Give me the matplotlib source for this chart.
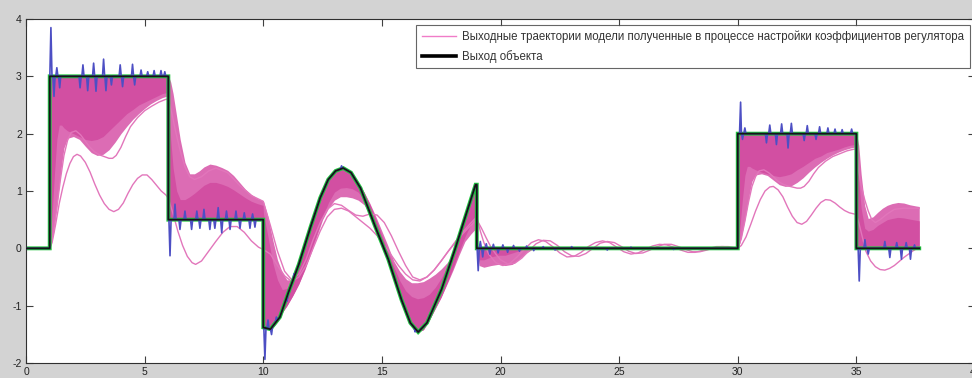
import numpy as np
import matplotlib
matplotlib.use("Agg")
import matplotlib.pyplot as plt
from matplotlib.lines import Line2D

# ---- setpoint / object output (breakpoints, sine section sampled) ----
ref_t = [0.0, 1.0, 1.0, 6.0, 6.0, 10.0, 10.0, 10.3, 10.7, 11.06, 11.5, 12.0, 12.4,
         12.74, 13.05, 13.37, 13.7, 14.1, 14.71, 15.27, 15.83, 16.2, 16.53, 16.9,
         17.52, 18.08, 18.64, 18.95, 19.0, 19.0, 30.0, 30.0, 35.0, 35.0, 37.65]
ref_y = [0.0, 0.0, 3.0, 3.0, 0.5, 0.5, -1.38, -1.41, -1.2, -0.77, -0.28, 0.38, 0.88,
         1.2, 1.35, 1.40, 1.32, 1.05, 0.39, -0.19, -0.9, -1.3, -1.46, -1.3,
         -0.71, -0.02, 0.71, 1.11, 1.11, 0.0, 0.0, 2.0, 2.0, 0.0, 0.0]

# ---- measured output: disturbance spikes on top of the object output ----
spike_t = [1.05, 1.18, 1.3, 1.42, 2.28, 2.4, 2.6, 2.85, 2.95, 3.27, 3.37, 3.6, 3.97,
           4.07, 4.49, 4.58, 4.85, 5.13, 5.4, 5.69, 5.85,
           6.07, 6.28, 6.49, 6.7, 6.98, 7.2, 7.33, 7.5, 7.75, 7.96, 8.1, 8.25, 8.45,
           8.6, 8.85, 9.02, 9.2, 9.44, 9.55, 9.65,
           10.07, 10.2, 10.35, 10.55, 11.0, 11.3, 13.3, 16.4,
           19.06, 19.15, 19.25, 19.4, 19.55, 19.7, 19.9, 20.1, 20.3, 20.55, 20.8,
           21.1, 21.4, 21.8, 22.3, 23.0, 24.5, 25.5, 27.3,
           30.12, 30.2, 30.3, 31.21, 31.35, 31.63, 31.85, 32.12, 32.26, 32.8, 32.93,
           33.3, 33.45, 33.8, 34.1, 34.4, 34.8,
           35.12, 35.36, 35.5, 36.2, 36.41, 36.7, 36.9, 37.1, 37.28, 37.45]
spike_dy = [0.85, -0.35, 0.15, -0.2, -0.2, 0.2, -0.25, 0.23, -0.26, 0.3, -0.25, -0.15, 0.2,
            -0.18, 0.21, -0.15, 0.11, 0.08, 0.1, 0.1, 0.08,
            -0.63, 0.27, -0.17, 0.15, -0.17, 0.15, -0.15, 0.18, -0.17, -0.15, 0.21, -0.23, 0.15,
            -0.17, 0.15, -0.15, 0.12, -0.15, 0.1, -0.13,
            -0.55, 0.15, -0.12, 0.08, -0.08, 0.06, 0.05, -0.06,
            -0.39, 0.12, -0.15, 0.08, -0.1, 0.07, -0.08, 0.06, -0.07, 0.05, -0.05,
            0.04, -0.04, 0.03, -0.03, 0.03, -0.03, 0.02, -0.02,
            0.55, -0.1, 0.1, -0.16, 0.15, -0.19, 0.17, -0.25, 0.18, -0.12, 0.14,
            -0.1, 0.12, 0.1, 0.08, 0.07, 0.08,
            -0.57, 0.15, -0.1, 0.12, -0.16, 0.1, -0.19, 0.1, -0.19, 0.06]

# ---- dense bundle of tuning trajectories: envelope and solid core ----
band_t = ([0.0, 0.99]
          + [1.01, 1.1, 1.2, 1.3, 1.4, 1.5, 1.6, 1.75, 2.0, 2.25, 2.5, 2.75, 3.0, 3.25,
             3.5, 3.75, 4.0, 4.25, 4.5, 4.75, 5.0, 5.25, 5.5, 5.75, 5.99]
          + [6.01, 6.1, 6.2, 6.35, 6.5, 6.7, 6.9, 7.1, 7.3, 7.5, 7.75, 8.0, 8.25, 8.5,
             8.75, 9.0, 9.25, 9.5, 9.75, 9.99]
          + [10.01, 10.2, 10.4, 10.6, 10.8, 11.0, 11.25, 11.5, 11.75, 12.0, 12.25, 12.5,
             12.75, 13.0, 13.25, 13.5, 13.75, 14.0, 14.25, 14.5, 14.75, 15.0, 15.25,
             15.5, 15.75, 16.0, 16.25, 16.5, 16.75, 17.0, 17.25, 17.5, 17.75, 18.0,
             18.25, 18.5, 18.75, 18.99]
          + [19.01, 19.1, 19.3, 19.6, 19.9, 20.2, 20.5, 20.8, 21.1, 21.4, 29.99]
          + [30.01, 30.1, 30.2, 30.3, 30.4, 30.5, 30.6, 30.75, 31.0, 31.25, 31.5, 31.75,
             32.0, 32.25, 32.5, 32.75, 33.0, 33.25, 33.5, 33.75, 34.0, 34.25, 34.5,
             34.75, 34.99]
          + [35.01, 35.1, 35.2, 35.35, 35.5, 35.7, 35.9, 36.1, 36.3, 36.5, 36.75, 37.0,
             37.25, 37.5, 37.65])
band_hi = ([0.0, 0.0]
           + [3.0] * 25
           + [3.0, 2.9, 2.7, 2.3, 1.9, 1.5, 1.3, 1.3, 1.35, 1.42, 1.47, 1.45, 1.41,
              1.36, 1.27, 1.15, 1.03, 0.94, 0.87, 0.83]
           + [0.82, 0.55, 0.15, -0.2, -0.42, -0.55, -0.55, -0.28, 0.05, 0.38, 0.7, 0.97,
              1.2, 1.33, 1.39, 1.38, 1.3, 1.15, 0.98, 0.78, 0.55, 0.3, 0.05, -0.22, -0.4,
              -0.53, -0.6, -0.6, -0.58, -0.52, -0.45, -0.36, -0.25, -0.1, 0.22, 0.53,
              0.85, 1.11]
           + [0.0] * 11
           + [2.0] * 25
           + [2.0, 1.8, 1.3, 0.75, 0.52, 0.55, 0.63, 0.7, 0.75, 0.78, 0.8, 0.79, 0.76,
              0.74, 0.73])
band_lo = ([0.0, 0.0]
           + [0.0, 0.15, 0.45, 0.75, 1.1, 1.45, 1.75, 1.92, 1.95, 1.9, 1.78, 1.67, 1.62,
              1.64, 1.72, 1.85, 2.0, 2.13, 2.25, 2.35, 2.44, 2.52, 2.58, 2.63, 2.66]
           + [0.5] * 20
           + [-1.38, -1.40, -1.38, -1.28, -1.12, -1.0, -0.82, -0.62, -0.38, -0.1, 0.2,
              0.5, 0.7, 0.84, 0.9, 0.9, 0.88, 0.84, 0.76, 0.6, 0.35, 0.07, -0.18,
              -0.48, -0.82, -1.15, -1.35, -1.46, -1.42, -1.25, -1.05, -0.85, -0.62,
              -0.38, -0.12, 0.12, 0.25, 0.36]
           + [0.0, -0.3, -0.33, -0.3, -0.28, -0.3, -0.28, -0.18, -0.08, 0.0, 0.0]
           + [0.0, 0.1, 0.3, 0.5, 0.73, 0.97, 1.17, 1.28, 1.3, 1.27, 1.19, 1.11, 1.08,
              1.09, 1.15, 1.23, 1.33, 1.42, 1.5, 1.57, 1.63, 1.68, 1.72, 1.75, 1.77]
           + [0.0] * 15)
core_hi = ([0.0, 0.0]
           + [3.0] * 25
           + [2.6, 1.9, 1.4, 1.0, 0.85, 0.85, 0.9, 0.96, 1.03, 1.1, 1.15, 1.15, 1.12,
              1.08, 1.02, 0.95, 0.88, 0.82, 0.78, 0.75]
           + [0.6, 0.2, -0.25, -0.55, -0.72, -0.7, -0.55, -0.28, 0.05, 0.38, 0.7, 0.97,
              1.2, 1.33, 1.39, 1.38, 1.3, 1.15, 0.98, 0.76, 0.5, 0.22, -0.05, -0.32,
              -0.56, -0.74, -0.84, -0.88, -0.86, -0.8, -0.68, -0.52, -0.32, -0.1, 0.22,
              0.53, 0.85, 1.11]
           + [0.0] * 11
           + [2.0] * 25
           + [1.7, 1.2, 0.7, 0.35, 0.3, 0.33, 0.4, 0.45, 0.5, 0.52, 0.54, 0.53, 0.51,
              0.49, 0.48])
core_lo = ([0.0, 0.0]
           + [0.0, 0.6, 1.3, 1.9, 2.15, 2.15, 2.1, 2.05, 2.0, 1.95, 1.9, 1.88, 1.9, 1.95,
              2.05, 2.15, 2.25, 2.35, 2.42, 2.5, 2.55, 2.6, 2.65, 2.7, 2.72]
           + [0.5] * 20
           + [-1.38, -1.40, -1.38, -1.28, -1.12, -1.0, -0.82, -0.62, -0.36, -0.06, 0.25,
              0.55, 0.8, 0.98, 1.05, 1.06, 1.04, 0.98, 0.85, 0.6, 0.35, 0.07, -0.18,
              -0.48, -0.82, -1.15, -1.35, -1.46, -1.42, -1.25, -1.05, -0.85, -0.6,
              -0.34, -0.06, 0.2, 0.42, 0.6]
           + [0.0, -0.2, -0.2, -0.15, -0.12, -0.12, -0.08, -0.04, 0.0, 0.0, 0.0]
           + [0.0, 0.4, 0.87, 1.27, 1.43, 1.43, 1.4, 1.37, 1.33, 1.3, 1.27, 1.25, 1.27,
              1.3, 1.37, 1.43, 1.5, 1.57, 1.61, 1.67, 1.7, 1.73, 1.77, 1.8, 1.81]
           + [0.0] * 15)

# ---- slowest individual trajectories (outside the bundle) ----
slow1_t = [0.0, 1.0, 1.1, 1.25, 1.4, 1.55, 1.7, 1.85, 2.0, 2.15, 2.3, 2.5, 2.7, 2.9,
           3.1, 3.3, 3.5, 3.7, 3.9, 4.1, 4.3, 4.5, 4.7, 4.9, 5.1, 5.3, 5.5, 5.7, 5.9,
           6.0, 6.2, 6.4, 6.6, 6.8, 7.0, 7.15, 7.4, 7.7, 8.0, 8.3, 8.6, 8.9, 9.2, 9.5,
           9.8, 10.0, 10.3, 10.6, 10.9, 11.2, 11.5, 11.8, 12.1, 12.4, 12.7, 13.0, 13.3,
           13.6, 13.9, 14.2, 14.5, 14.8, 15.1, 15.4, 15.7, 16.0, 16.3, 16.6, 16.9,
           17.2, 17.5, 17.8, 18.1, 18.4, 18.7, 19.0, 19.2, 19.4, 19.6, 19.8, 20.0,
           20.3, 20.6, 20.9, 21.2, 21.5, 21.8, 22.1, 22.4, 22.7, 23.0, 23.3, 23.6,
           23.9, 24.2, 24.5, 24.8, 25.1, 25.4, 25.7, 26.0, 26.3, 26.6, 26.9, 27.2,
           27.5, 27.8, 28.1, 28.4, 28.7, 29.0, 29.3, 29.6, 30.0, 30.15, 30.35, 30.55,
           30.75, 30.95, 31.15, 31.35, 31.5, 31.7, 31.9, 32.1, 32.3, 32.5, 32.7, 32.9,
           33.1, 33.3, 33.5, 33.7, 33.9, 34.1, 34.3, 34.5, 34.7, 34.9, 35.0, 35.1,
           35.25, 35.4, 35.6, 35.8, 36.0, 36.2, 36.4, 36.6, 36.8, 37.0, 37.2, 37.4,
           37.65]
slow1_y = [0.0, 0.0, 0.1, 0.42, 0.78, 1.06, 1.3, 1.48, 1.6, 1.64, 1.61, 1.5, 1.33, 1.12,
           0.93, 0.78, 0.68, 0.64, 0.68, 0.79, 0.96, 1.11, 1.22, 1.28, 1.28, 1.2, 1.1,
           1.0, 0.93, 0.87, 0.6, 0.3, 0.05, -0.14, -0.25, -0.28, -0.22, -0.05, 0.12,
           0.28, 0.38, 0.38, 0.28, 0.13, 0.02, -0.02, -0.1, -0.3, -0.48, -0.58, -0.5,
           -0.3, 0.0, 0.3, 0.55, 0.68, 0.7, 0.65, 0.55, 0.45, 0.35, 0.22, 0.05, -0.12,
           -0.3, -0.45, -0.55, -0.57, -0.5, -0.38, -0.22, -0.05, 0.1, 0.25, 0.38, 0.5,
           0.35, 0.18, 0.02, -0.1, -0.2, -0.27, -0.26, -0.17, -0.04, 0.08, 0.14, 0.13,
           0.05, -0.06, -0.13, -0.14, -0.09, 0.0, 0.09, 0.12, 0.1, 0.03, -0.05, -0.09,
           -0.08, -0.03, 0.03, 0.07, 0.07, 0.03, -0.02, -0.06, -0.06, -0.03, 0.01,
           0.03, 0.03, 0.0, 0.05, 0.2, 0.42, 0.65, 0.85, 1.0, 1.07, 1.08, 1.02, 0.9,
           0.72, 0.56, 0.45, 0.42, 0.47, 0.58, 0.7, 0.8, 0.85, 0.84, 0.79, 0.72, 0.66,
           0.62, 0.6, 0.59, 0.45, 0.2, -0.05, -0.22, -0.32, -0.37, -0.38, -0.35, -0.3,
           -0.23, -0.16, -0.1, -0.04, 0.02]

slow2_t = [0.0, 1.0, 1.15, 1.3, 1.45, 1.6, 1.75, 1.9, 2.1, 2.3, 2.5, 2.7, 2.9, 3.1,
           3.3, 3.5, 3.65, 3.8, 4.0, 4.2, 4.4, 4.7, 5.0, 5.3, 5.6, 5.9, 6.0, 6.15, 6.3,
           6.5, 6.7, 6.9, 7.1, 7.4, 7.7, 8.0, 8.5, 9.0, 9.5, 10.0, 10.3, 10.6, 10.9,
           11.2, 11.5, 11.8, 12.1, 12.4, 12.7, 13.0, 13.3, 13.6, 13.9, 14.2, 14.5,
           14.8, 15.1, 15.4, 15.7, 16.0, 16.3, 16.6, 16.9, 17.2, 17.5, 17.8, 18.1,
           18.4, 18.7, 19.0, 19.15, 19.3, 19.5, 19.8, 20.1, 20.4, 20.7, 21.0, 21.3,
           21.6, 21.9, 22.2, 22.5, 22.8, 23.1, 23.4, 23.7, 24.0, 24.3, 24.6, 24.9,
           25.2, 25.5, 25.8, 26.1, 26.4, 26.7, 27.0, 27.3, 27.6, 27.9, 28.2, 28.5,
           28.8, 29.1, 29.4, 29.7, 30.0, 30.15, 30.3, 30.45, 30.6, 30.75, 30.9, 31.1,
           31.3, 31.5, 31.7, 31.9, 32.1, 32.3, 32.5, 32.65, 32.8, 33.0, 33.2, 33.4,
           33.7, 34.0, 34.3, 34.6, 34.9, 35.0, 35.1, 35.2, 35.35, 35.5, 35.65, 35.8,
           36.0, 36.3, 36.6, 37.0, 37.4, 37.65]
slow2_y = [0.0, 0.0, 0.25, 0.7, 1.2, 1.62, 1.88, 2.02, 2.05, 1.98, 1.87, 1.76, 1.68,
           1.63, 1.6, 1.57, 1.57, 1.62, 1.76, 1.95, 2.12, 2.28, 2.4, 2.48, 2.55, 2.6,
           2.6, 2.35, 2.05, 1.7, 1.42, 1.25, 1.2, 1.25, 1.35, 1.4, 1.32, 1.1, 0.92,
           0.82, 0.4, -0.05, -0.4, -0.55, -0.45, -0.2, 0.15, 0.45, 0.68, 0.78, 0.75,
           0.66, 0.58, 0.56, 0.6, 0.58, 0.45, 0.22, -0.05, -0.3, -0.5, -0.55, -0.5,
           -0.38, -0.22, -0.05, 0.12, 0.28, 0.42, 0.55, 0.3, 0.1, -0.1, -0.25, -0.3,
           -0.26, -0.15, -0.02, 0.1, 0.15, 0.12, 0.03, -0.08, -0.15, -0.14, -0.07,
           0.03, 0.1, 0.13, 0.1, 0.02, -0.06, -0.1, -0.08, -0.02, 0.04, 0.07, 0.06,
           0.02, -0.03, -0.07, -0.07, -0.04, 0.0, 0.03, 0.03, 0.01, 0.0, 0.17, 0.47,
           0.8, 1.08, 1.25, 1.35, 1.37, 1.32, 1.25, 1.17, 1.12, 1.09, 1.07, 1.05,
           1.05, 1.08, 1.17, 1.3, 1.41, 1.52, 1.6, 1.65, 1.7, 1.73, 1.73, 1.35, 1.1,
           0.85, 0.65, 0.5, 0.45, 0.5, 0.6, 0.68, 0.7, 0.7, 0.7]

# ---- tick labels and legend texts ----
xticks = [0, 5, 10, 15, 20, 25, 30, 35, 40]
yticks = [-2, -1, 0, 1, 2, 3, 4]
legend_labels = ["Выходные траектории модели полученные в процессе настройки коэффициентов регулятора",
                 "Выход объекта"]

PINK_CORE = "#d24fa2"
PINK_OUT = "#dc6cb4"
PINK_LINE = "#e276bb"

plt.rcParams["font.family"] = ["Liberation Sans", "DejaVu Sans"]
plt.rcParams["axes.unicode_minus"] = False

fig = plt.figure(figsize=(9.72, 3.78), dpi=100)
fig.patch.set_facecolor("#d3d3d3")
ax = fig.add_axes([26 / 972, 15 / 378, 949 / 972, 344 / 378])
ax.set_facecolor("white")

ax.fill_between(band_t, band_lo, band_hi, color=PINK_OUT, lw=0, zorder=1)
ax.fill_between(band_t, core_lo, core_hi, color=PINK_CORE, lw=0, zorder=1.2)
ax.plot(slow1_t, slow1_y, color=PINK_LINE, lw=1.0, zorder=1.5)
ax.plot(slow2_t, slow2_y, color=PINK_LINE, lw=1.0, zorder=1.5)

# setpoint (green), measured output with spikes (blue), object output (black)
ax.plot(ref_t, ref_y, color="#1fc53a", lw=2.8, zorder=2, solid_joinstyle="miter")

st = np.array(spike_t)
sd = np.array(spike_dy)
w = 0.045
pts_t = np.concatenate([np.array(ref_t), st - w, st, st + w])
pts_y = np.concatenate([np.array(ref_y),
                        np.interp(st - w, ref_t, ref_y),
                        np.interp(st, ref_t, ref_y) + sd,
                        np.interp(st + w, ref_t, ref_y)])
order = np.argsort(pts_t, kind="stable")
ax.plot(pts_t[order], pts_y[order], color="#4d4fc4", lw=1.2, zorder=3)

ax.plot(ref_t, ref_y, color="#151515", lw=1.3, zorder=4)

ax.set_xlim(0, 40)
ax.set_ylim(-2, 4)
ax.set_xticks(xticks)
ax.set_yticks(yticks)
ax.tick_params(direction="in", length=5, width=0.8, top=True, right=True,
               labelsize=7.5, color="#404040", labelcolor="#222222")
ax.tick_params(axis="y", pad=3)
ax.tick_params(axis="x", pad=3)
for s in ax.spines.values():
    s.set_color("#303030")
    s.set_linewidth(0.8)

handles = [Line2D([], [], color="#f07cc8", lw=1.0),
           Line2D([], [], color="black", lw=2.6)]
leg = ax.legend(handles, legend_labels, loc="upper left",
                bbox_to_anchor=((416 - 26) / 949, (363 - 25) / 344, (970 - 416) / 949, 0.0),
                mode="expand", fontsize=8.3, frameon=True, fancybox=False,
                borderpad=0.5, labelspacing=0.55, handlelength=3.0, handletextpad=0.45,
                borderaxespad=0.0)
leg.get_frame().set_edgecolor("#404040")
leg.get_frame().set_linewidth(0.8)
leg.set_zorder(10)
for txt in leg.get_texts():
    txt.set_color("#333333")

fig.savefig("out.png", dpi=100, facecolor=fig.get_facecolor())
